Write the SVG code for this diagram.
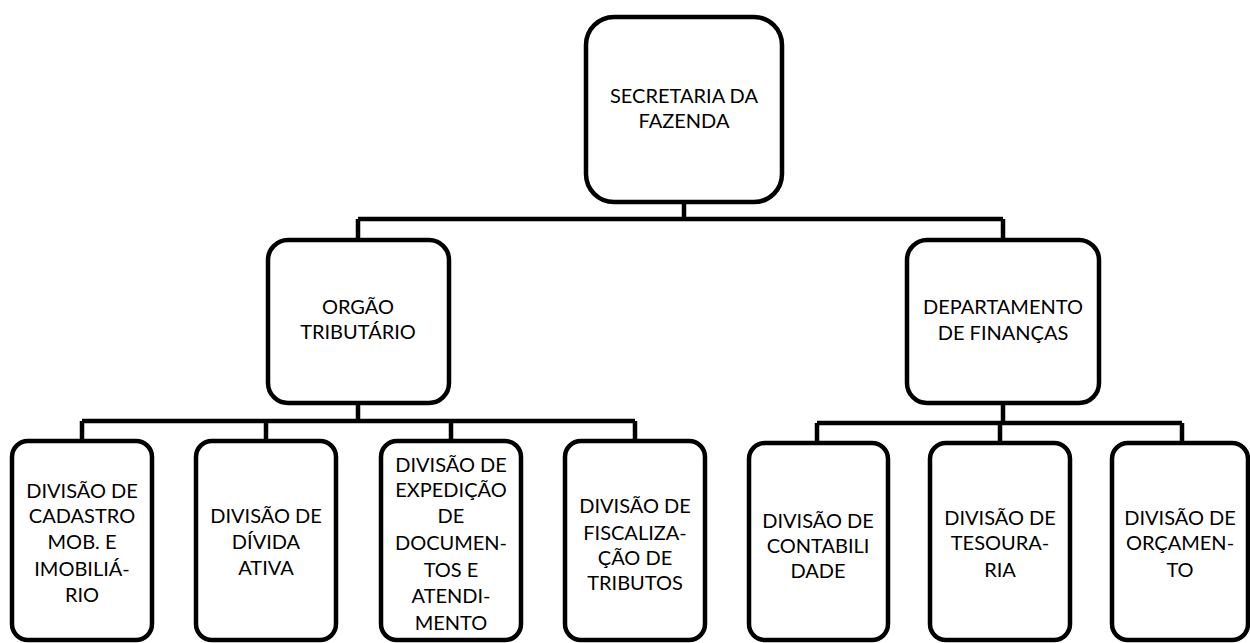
<svg xmlns="http://www.w3.org/2000/svg" width="1250" height="643" viewBox="0 0 1250 643">
<style>
.box{fill:#fff;stroke:#000;stroke-width:4.5}
.ln{fill:none;stroke:#000;stroke-width:4.5;stroke-linecap:butt}
text{font-family:Lato,"Open Sans","Liberation Sans",sans-serif;font-size:20px;fill:#000;text-anchor:middle}
</style>
<rect width="1250" height="643" fill="#fff"/>
<g id="connectors">
<path class="ln" d="M684 202V219M358 219H1003M358 219V240M1003 219V240"/>
<path class="ln" d="M358 403V421M82 421H635M82 421V441M266 421V441M451 421V441M635 421V441"/>
<path class="ln" d="M1003 403V423M817 423H1182M817 423V443M1000 423V443M1182 423V443"/>
</g>
<g id="secretaria">
<rect class="box" x="586" y="17" width="196" height="185" rx="28"/>
<text x="684" y="103">SECRETARIA DA</text>
<text x="684" y="128">FAZENDA</text>
</g>
<g id="orgao">
<rect class="box" x="268" y="240" width="181" height="163" rx="20"/>
<text x="358" y="314">ORGÃO</text>
<text x="358" y="339">TRIBUTÁRIO</text>
</g>
<g id="departamento">
<rect class="box" x="907" y="240" width="192" height="163" rx="20"/>
<text x="1003" y="314">DEPARTAMENTO</text>
<text x="1003" y="340">DE FINANÇAS</text>
</g>
<g id="cadastro">
<rect class="box" x="12" y="441" width="140" height="199" rx="16"/>
<text x="82" y="498">DIVISÃO DE</text>
<text x="82" y="523">CADASTRO</text>
<text x="82" y="549">MOB. E</text>
<text x="82" y="576">IMOBILIÁ-</text>
<text x="82" y="602">RIO</text>
</g>
<g id="divida">
<rect class="box" x="196" y="441" width="140" height="199" rx="16"/>
<text x="266" y="523">DIVISÃO DE</text>
<text x="266" y="549">DÍVIDA</text>
<text x="266" y="575">ATIVA</text>
</g>
<g id="expedicao">
<rect class="box" x="381" y="441" width="140" height="199" rx="16"/>
<text x="451" y="472">DIVISÃO DE</text>
<text x="451" y="497">EXPEDIÇÃO</text>
<text x="451" y="523">DE</text>
<text x="451" y="550">DOCUMEN-</text>
<text x="451" y="577">TOS E</text>
<text x="451" y="603">ATENDI-</text>
<text x="451" y="630">MENTO</text>
</g>
<g id="fiscalizacao">
<rect class="box" x="565" y="441" width="140" height="199" rx="16"/>
<text x="635" y="513">DIVISÃO DE</text>
<text x="635" y="540">FISCALIZA-</text>
<text x="635" y="565">ÇÃO DE</text>
<text x="635" y="590">TRIBUTOS</text>
</g>
<g id="contabilidade">
<rect class="box" x="749" y="443" width="139" height="197" rx="16"/>
<text x="818" y="528">DIVISÃO DE</text>
<text x="818" y="553">CONTABILI</text>
<text x="818" y="578">DADE</text>
</g>
<g id="tesouraria">
<rect class="box" x="930" y="443" width="140" height="197" rx="16"/>
<text x="1000" y="525">DIVISÃO DE</text>
<text x="1000" y="550">TESOURA-</text>
<text x="1000" y="577">RIA</text>
</g>
<g id="orcamento">
<rect class="box" x="1112" y="443" width="136" height="197" rx="16"/>
<text x="1180" y="525">DIVISÃO DE</text>
<text x="1180" y="550">ORÇAMEN-</text>
<text x="1180" y="577">TO</text>
</g>
</svg>
